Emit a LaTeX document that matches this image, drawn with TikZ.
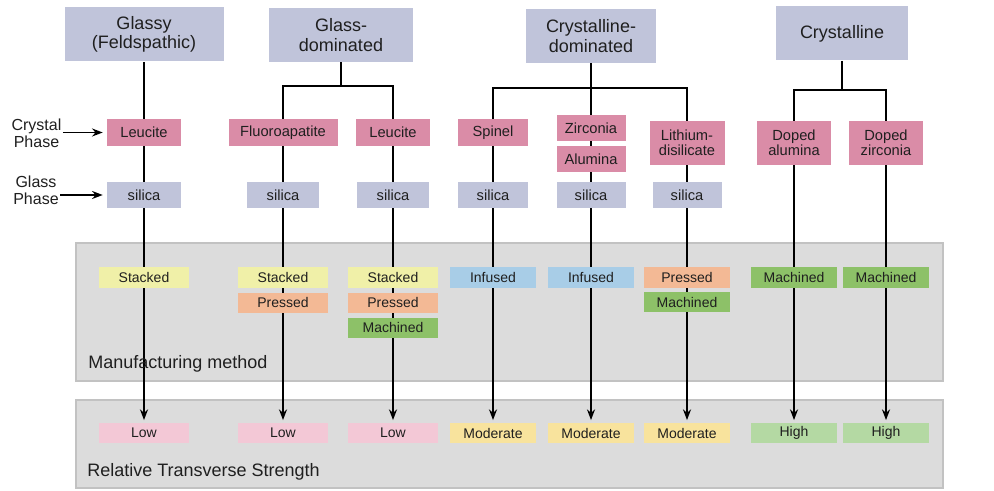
\documentclass[tikz,border=0pt]{standalone}
\usepackage{fontspec}
\setmainfont{Liberation Sans}
\usetikzlibrary{positioning,arrows.meta,backgrounds}

\definecolor{famblue}{HTML}{C0C4DA}
\definecolor{xtalpink}{HTML}{DA8CA7}
\definecolor{stackyel}{HTML}{F0F0A8}
\definecolor{pressor}{HTML}{F3B995}
\definecolor{machgrn}{HTML}{8DC168}
\definecolor{infblue}{HTML}{A8CDE7}
\definecolor{lowpink}{HTML}{F3C8D6}
\definecolor{modyel}{HTML}{F8E39D}
\definecolor{highgrn}{HTML}{B4D9A3}
\definecolor{panelgray}{HTML}{DCDCDC}
\definecolor{panelline}{HTML}{C2C2C2}

\begin{document}
\begin{tikzpicture}[
	x=0.75pt, y=-0.75pt,
	font=\fontsize{11}{11.25}\selectfont,
	box/.style={
		inner sep=0pt,
		align=center,
		text=black!88,
	},
	family/.style={box, fill=famblue, minimum height=40.5pt,
		font=\fontsize{13.5}{14.5}\selectfont},
	xtal/.style={box, fill=xtalpink, minimum height=20.25pt, minimum width=55.5pt},
	xtaltwo/.style={xtal, minimum height=33pt},
	glass/.style={box, fill=famblue, minimum height=19.5pt, minimum width=54pt},
	method/.style={box, minimum height=15pt, minimum width=64pt,
		font=\fontsize{10.5}{12}\selectfont},
	stacked/.style={method, fill=stackyel},
	pressed/.style={method, fill=pressor},
	machined/.style={method, fill=machgrn},
	infused/.style={method, fill=infblue},
	low/.style={method, fill=lowpink},
	moderate/.style={method, fill=modyel},
	high/.style={method, fill=highgrn},
	wide/.style={minimum width=67pt},
	sidelbl/.style={inner sep=0pt, align=center, text=black!88,
		font=\fontsize{12}{12.5}\selectfont},
	panel/.style={fill=panelgray, draw=panelline, line width=0.8pt},
	panellbl/.style={inner sep=0pt, anchor=base west, text=black!88,
		font=\fontsize{13.5}{16}\selectfont},
	link/.style={line width=1.7pt, black},
	flow/.style={link, -{Stealth[length=8pt,width=6pt]}, shorten >=2pt},
	pointer/.style={line width=1.3pt, black, -{Stealth[length=8pt,width=6pt]},
		shorten <=1pt, shorten >=3pt},
]
\useasboundingbox (0,0) rectangle (994,491);

% --- Ceramic families ---
\node[family, minimum width=119.25pt] (glassy) at (144,34.5)   {Glassy\\(Feldspathic)};
\node[family, minimum width=108pt]    (gd)     at (341,35)     {Glass-\\dominated};
\node[family, minimum width=97.5pt]   (cd)     at (591,36)     {Crystalline-\\dominated};
\node[family, minimum width=99pt]     (crys)   at (842,33.5)   {Crystalline};

% --- Crystal phase ---
\node[xtal] (lc1) at (144,132.5) {Leucite};
\node[xtal, minimum width=81.75pt] (fa) at (283,132.5) {Fluoroapatite};
\node[xtal] (lc2) at (393,132.5) {Leucite};
\node[xtal, minimum width=52.5pt] (sp) at (493,132.5) {Spinel};
\node[xtal, minimum width=51.75pt, minimum height=19.5pt] (zr) at (591,128) {Zirconia};
\node[xtal, minimum width=51.75pt, minimum height=19.5pt] (al) at (591,159) {Alumina};
\node[xtaltwo, minimum width=56.25pt] (li) at (687,143) {Lithium-\\disilicate};
\node[xtaltwo] (da) at (794,143) {Doped\\alumina};
\node[xtaltwo] (dz) at (886,143) {Doped\\zirconia};

% --- Glass phase ---
\node[glass, minimum width=55.5pt] (si1) at (144,195) {silica};
\node[glass] (si2) at (283,195) {silica};
\node[glass] (si3) at (393,195) {silica};
\node[glass, minimum width=52.5pt] (si4) at (493,195) {silica};
\node[glass, minimum width=51.75pt] (si5) at (591,195) {silica};
\node[glass, minimum width=51.75pt] (si6) at (687,195) {silica};

% --- Side labels ---
\node[sidelbl] (xlbl) at (36.5,133.5) {Crystal\\Phase};
\node[sidelbl] (glbl) at (36,190)     {Glass\\Phase};
\draw[pointer] (xlbl.east |- lc1) -- (lc1);
\draw[pointer] (glbl.east |- si1) -- (si1);

% --- Manufacturing method ---
\node[stacked, wide]  (stk1) at (144,277.5) {Stacked};
\node[stacked, wide]  (stk2) at (283,277.5) {Stacked};
\node[pressed, wide]  (pr2)  at (283,302.5) {Pressed};
\node[stacked, wide]  (stk3) at (393,277.5) {Stacked};
\node[pressed, wide]  (pr3)  at (393,302.5) {Pressed};
\node[machined, wide] (mc3)  at (393,327.5) {Machined};
\node[infused]  (inf4) at (493,277.5) {Infused};
\node[infused]  (inf5) at (591,277.5) {Infused};
\node[pressed]  (pr6)  at (687,277.5) {Pressed};
\node[machined] (mc6)  at (687,302)   {Machined};
\node[machined] (mc7)  at (794,277.5) {Machined};
\node[machined] (mc8)  at (886,277.5) {Machined};
\node[panellbl] (mfglbl) at (88,368) {Manufacturing method};

% --- Relative strength ---
\node[low, wide] (low1) at (144,433) {Low};
\node[low, wide] (low2) at (283,433) {Low};
\node[low, wide] (low3) at (393,433) {Low};
\node[moderate] (mod4) at (493,433) {Moderate};
\node[moderate] (mod5) at (591,433) {Moderate};
\node[moderate] (mod6) at (687,433) {Moderate};
\node[high] (high7) at (794,433) {High};
\node[high] (high8) at (886,433) {High};
\node[panellbl] (strlbl) at (87,476) {Relative Transverse Strength};

\begin{scope}[on background layer]
	% panels
	\draw[panel] (76,243) rectangle (943,381);
	\draw[panel] (76,400) rectangle (943,488);

	% family -> crystal phase
	\draw[link] (glassy) -- (lc1);
	\draw[link] (gd.south) -- ++(0,24) coordinate (gdjoin);
	\draw[link] (fa.north) |- (gdjoin) -| (lc2.north);
	\draw[link] (cd) -- (zr);
	\path (cd.south) -- ++(0,25) coordinate (cdjoin);
	\draw[link] (sp.north) |- (cdjoin) -| (li.north);
	\draw[link] (crys.south) -- ++(0,29) coordinate (crjoin);
	\draw[link] (da.north) |- (crjoin) -| (dz.north);

	% columns down to strength
	\foreach \a/\b in {lc1/low1,fa/low2,lc2/low3,sp/mod4,zr/mod5,li/mod6,da/high7,dz/high8}
		\draw[flow] (\a) -- (\b);
\end{scope}

\end{tikzpicture}
\end{document}
